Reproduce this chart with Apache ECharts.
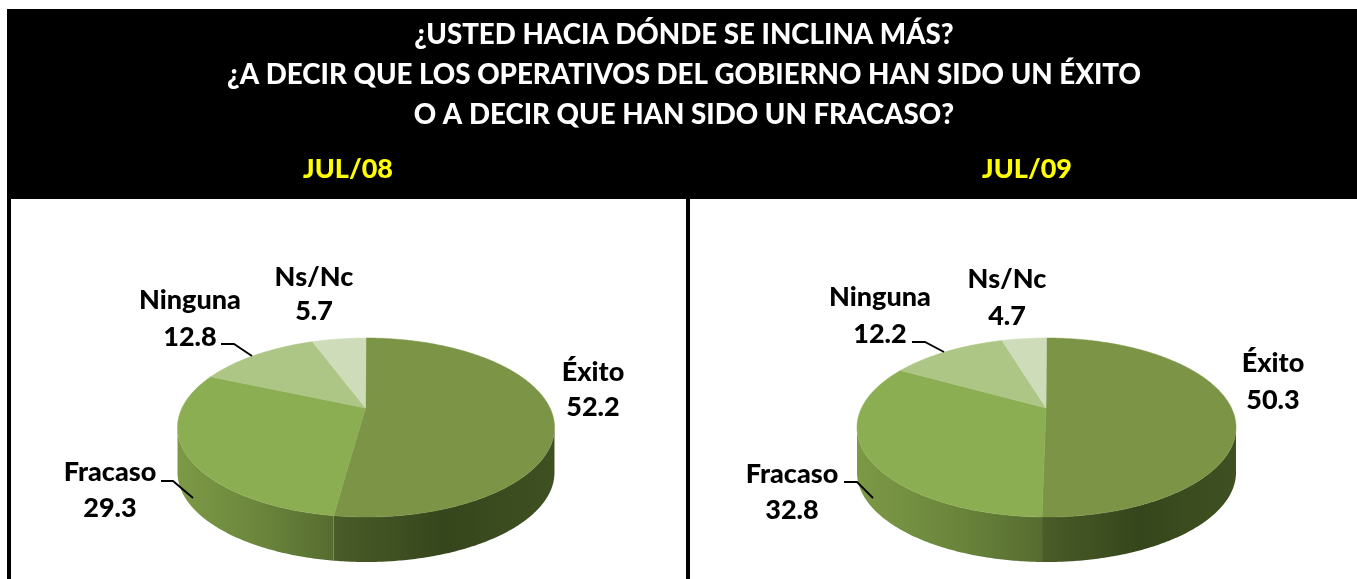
<!DOCTYPE html>
<html>
<head>
<meta charset="utf-8">
<title>Operativos del gobierno</title>
<style>
  html, body { margin: 0; padding: 0; background: #fff; }
  #chart { width: 1357px; height: 579px; }
</style>
<script src="https://cdn.jsdelivr.net/npm/echarts@6/dist/echarts.min.js"></script>
</head>
<body>
<div id="chart"></div>
<script>
const categories = ['Éxito', 'Fracaso', 'Ninguna', 'Ns/Nc']
const valuesJul08 = [52.2, 29.3, 12.8, 5.7]
const valuesJul09 = [50.3, 32.8, 12.2, 4.7]
const periods = ['JUL/08', 'JUL/09']
const titleLines = [
  '¿USTED HACIA DÓNDE SE INCLINA MÁS?',
  '¿A DECIR QUE LOS OPERATIVOS DEL GOBIERNO HAN SIDO UN ÉXITO',
  'O A DECIR QUE HAN SIDO UN FRACASO?'
]

const font = 'Lato, "Open Sans", sans-serif'
const topColors = ['#7b9446', '#8cae52', '#adc585', '#cfdcb9']
// wall colours left to right for the slices that show a wall
const wallColors = [['#4a5c28', '#36461c', '#3f5122'], ['#7c9946', '#6c873c', '#566c30']]

// top ellipse of the pie, k moves the slice centre above the ellipse centre
const persp = { ry: 89.5, cy: 427.5, depth: 45, k: -0.218 }

const layouts = [
  {
    cx: 366, rx: 188.5,
    labels: [[593, 372, 407], [110, 472, 508], [190, 300, 337], [314, 277, 311]],
    leaders: { 1: [[161, 481], [173, 481], [193, 498]], 2: [[221, 344], [234, 344], [252, 356]] }
  },
  {
    cx: 1046.5, rx: 189.5,
    labels: [[1273, 363, 400], [792, 474, 510], [880, 297, 334], [1007, 279, 316]],
    leaders: { 1: [[844, 482], [857, 482], [873, 498]], 2: [[912, 342], [925, 342], [944, 352]] }
  }
]

function project(theta, lay) {
  const u = Math.sin(theta)
  const v = -Math.cos(theta)
  const k = persp.k
  const d = 1 + k * v
  return [
    lay.cx + lay.rx * u * Math.sqrt(1 - k * k) / d,
    persp.cy + persp.ry * (v + k) / d
  ]
}

function slicePoints(a0, a1, lay) {
  const pts = []
  const n = Math.max(4, Math.ceil((a1 - a0) / 0.01))
  for (let i = 0; i <= n; i++) pts.push(project(a0 + (a1 - a0) * i / n, lay))
  return pts
}

function makeRender(values, lay) {
  const total = values.reduce((a, b) => a + b, 0)
  return function (params, api) {
    const i = params.dataIndex
    const val = api.value(0)
    const before = values.slice(0, i).reduce((a, b) => a + b, 0)
    const a0 = before / total * Math.PI * 2
    const a1 = (before + val) / total * Math.PI * 2
    const arc = slicePoints(a0, a1, lay)
    const children = []

    // side wall, only the part under the ellipse's widest line shows
    const front = arc.filter(p => p[1] >= persp.cy)
    if (front.length > 1 && wallColors[i]) {
      const back = front.slice().reverse().map(p => [p[0], p[1] + persp.depth])
      const cols = wallColors[i]
      children.push({
        type: 'polygon',
        shape: { points: front.concat(back) },
        style: {
          fill: new echarts.graphic.LinearGradient(0, 0, 1, 0, [
            { offset: 0, color: cols[0] },
            { offset: 0.5, color: cols[1] },
            { offset: 1, color: cols[2] }
          ])
        }
      })
    }

    // top face
    const apex = [lay.cx - 0.5, persp.cy + persp.ry * persp.k]
    children.push({
      type: 'polygon',
      shape: { points: [apex].concat(arc) },
      style: { fill: topColors[i], stroke: topColors[i], lineWidth: 0.5 },
      z2: 5
    })

    // labels
    const lab = lay.labels[i]
    const textStyle = { fill: '#000', font: '900 27px ' + font, align: 'center', verticalAlign: 'middle' }
    children.push({ type: 'text', z2: 10, style: Object.assign({ text: categories[i], x: lab[0], y: lab[1] }, textStyle) })
    children.push({ type: 'text', z2: 10, style: Object.assign({ text: val.toFixed(1), x: lab[0], y: lab[2] }, textStyle) })
    if (lay.leaders[i]) {
      children.push({
        type: 'polyline',
        z2: 10,
        shape: { points: lay.leaders[i] },
        style: { stroke: '#000', lineWidth: 1.8, fill: null }
      })
    }
    return { type: 'group', children }
  }
}

const myChart = echarts.init(document.getElementById('chart'), null, { renderer: 'canvas' })

myChart.setOption({
  backgroundColor: '#fff',
  animation: false,
  title: [
    {
      text: titleLines.join('\n'),
      left: 679,
      top: 10,
      textAlign: 'center',
      textStyle: { color: '#fff', fontFamily: font, fontWeight: 900, fontSize: 27.7, lineHeight: 40 }
    },
    {
      text: periods[0],
      left: 343,
      top: 151,
      textAlign: 'center',
      textStyle: { color: '#ffff00', fontFamily: font, fontWeight: 900, fontSize: 27 }
    },
    {
      text: periods[1],
      left: 1022,
      top: 151,
      textAlign: 'center',
      textStyle: { color: '#ffff00', fontFamily: font, fontWeight: 900, fontSize: 27 }
    }
  ],
  graphic: [
    { type: 'rect', shape: { x: 7, y: 9, width: 1350, height: 190 }, style: { fill: '#000' }, z: -1 },
    { type: 'rect', shape: { x: 7, y: 199, width: 4, height: 380 }, style: { fill: '#000' }, z: -1 },
    { type: 'rect', shape: { x: 686, y: 199, width: 4, height: 380 }, style: { fill: '#000' }, z: -1 }
  ],
  series: [
    {
      type: 'custom',
      name: periods[0],
      coordinateSystem: 'none',
      silent: true,
      renderItem: makeRender(valuesJul08, layouts[0]),
      data: valuesJul08.map(v => [v])
    },
    {
      type: 'custom',
      name: periods[1],
      coordinateSystem: 'none',
      silent: true,
      renderItem: makeRender(valuesJul09, layouts[1]),
      data: valuesJul09.map(v => [v])
    }
  ]
})
</script>
</body>
</html>
